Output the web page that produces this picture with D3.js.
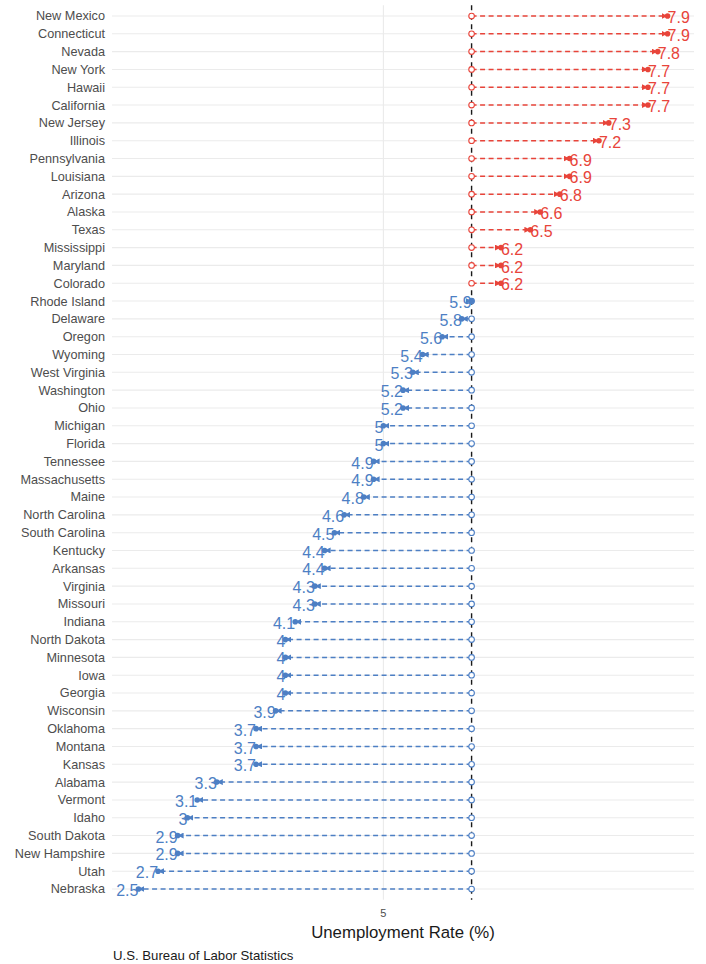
<!DOCTYPE html>
<html>
<head>
<meta charset="utf-8">
<script src="https://cdn.jsdelivr.net/npm/d3@7"></script>
<style>
  body { margin: 0; background: #fff; }
  svg { font-family: "Liberation Sans", Arial, sans-serif; }
</style>
</head>
<body>
<div id="chart"></div>
<script>
const width = 706;
const height = 964;

// data, sorted as shown (top to bottom)
const states = [
  "New Mexico", "Connecticut", "Nevada", "New York", "Hawaii", "California",
  "New Jersey", "Illinois", "Pennsylvania", "Louisiana", "Arizona", "Alaska",
  "Texas", "Mississippi", "Maryland", "Colorado", "Rhode Island", "Delaware",
  "Oregon", "Wyoming", "West Virginia", "Washington", "Ohio", "Michigan",
  "Florida", "Tennessee", "Massachusetts", "Maine", "North Carolina",
  "South Carolina", "Kentucky", "Arkansas", "Virginia", "Missouri", "Indiana",
  "North Dakota", "Minnesota", "Iowa", "Georgia", "Wisconsin", "Oklahoma",
  "Montana", "Kansas", "Alabama", "Vermont", "Idaho", "South Dakota",
  "New Hampshire", "Utah", "Nebraska"
];
const rates = [
  7.9, 7.9, 7.8, 7.7, 7.7, 7.7,
  7.3, 7.2, 6.9, 6.9, 6.8, 6.6,
  6.5, 6.2, 6.2, 6.2, 5.9, 5.8,
  5.6, 5.4, 5.3, 5.2, 5.2, 5,
  5, 4.9, 4.9, 4.8, 4.6,
  4.5, 4.4, 4.4, 4.3, 4.3, 4.1,
  4, 4, 4, 4, 3.9, 3.7,
  3.7, 3.7, 3.3, 3.1, 3, 2.9,
  2.9, 2.7, 2.5
];
const nationalRate = 5.9;
const xTicks = [5];

const red = "#e8443a";
const blue = "#4d7fc4";

const rows = states.map((s, i) => ({ state: s, rate: rates[i] }));

const panel = { left: 112, right: 694, top: 5.3, bottom: 899.7 };

const svg = d3.select("#chart").append("svg")
  .attr("width", width)
  .attr("height", height);

const x = d3.scaleLinear()
  .domain([2.5 - 0.27, 7.9 + 0.27])
  .range([panel.left, panel.right]);

const y = d3.scalePoint()
  .domain(states)
  .range([panel.top, panel.bottom])
  .padding(0.6);

const colorOf = d => d.rate > nationalRate ? red : blue;

// grid
svg.append("g")
  .selectAll("line")
  .data(states)
  .enter()
  .append("line")
  .attr("x1", panel.left)
  .attr("x2", panel.right)
  .attr("y1", d => y(d))
  .attr("y2", d => y(d))
  .attr("stroke", "#ebebeb")
  .attr("stroke-width", 1.1);

svg.append("g")
  .selectAll("line")
  .data(xTicks)
  .enter()
  .append("line")
  .attr("x1", d => x(d))
  .attr("x2", d => x(d))
  .attr("y1", panel.top)
  .attr("y2", panel.bottom)
  .attr("stroke", "#ebebeb")
  .attr("stroke-width", 1.1);

// state labels
svg.append("g")
  .selectAll("text")
  .data(states)
  .enter()
  .append("text")
  .attr("x", 105)
  .attr("y", d => y(d))
  .attr("dy", "0.35em")
  .attr("text-anchor", "end")
  .attr("font-size", 12.7)
  .attr("fill", "#4d4d4d")
  .text(d => d);

// x tick labels
svg.append("g")
  .selectAll("text")
  .data(xTicks)
  .enter()
  .append("text")
  .attr("x", d => x(d))
  .attr("y", 917)
  .attr("text-anchor", "middle")
  .attr("font-size", 11)
  .attr("fill", "#4d4d4d")
  .text(d => d);

// reference line
svg.append("line")
  .attr("x1", x(nationalRate))
  .attr("x2", x(nationalRate))
  .attr("y1", panel.top)
  .attr("y2", panel.bottom)
  .attr("stroke", "#1a1a1a")
  .attr("stroke-width", 1.4)
  .attr("stroke-dasharray", "5,4.5");

// arrow markers
const defs = svg.append("defs");
[["red", red], ["blue", blue]].forEach(([name, col]) => {
  defs.append("marker")
    .attr("id", "arrow-" + name)
    .attr("viewBox", "0 0 10 10")
    .attr("refX", 10)
    .attr("refY", 5)
    .attr("markerUnits", "userSpaceOnUse")
    .attr("markerWidth", 6)
    .attr("markerHeight", 6)
    .attr("orient", "auto")
    .append("path")
    .attr("d", "M0,0L10,5L0,10Z")
    .attr("fill", col);
});

// dashed segments
svg.append("g")
  .selectAll("line")
  .data(rows)
  .enter()
  .append("line")
  .attr("x1", x(nationalRate))
  .attr("x2", d => x(d.rate))
  .attr("y1", d => y(d.state))
  .attr("y2", d => y(d.state))
  .attr("stroke", colorOf)
  .attr("stroke-width", 1.5)
  .attr("stroke-dasharray", "5,3.5")
  .attr("marker-end", d => d.rate > nationalRate ? "url(#arrow-red)" : "url(#arrow-blue)");

// open circles at the national rate
svg.append("g")
  .selectAll("circle")
  .data(rows)
  .enter()
  .append("circle")
  .attr("cx", x(nationalRate))
  .attr("cy", d => y(d.state))
  .attr("r", 2.8)
  .attr("fill", "#fff")
  .attr("stroke", colorOf)
  .attr("stroke-width", 1.1);

// filled points at state rate
svg.append("g")
  .selectAll("circle")
  .data(rows)
  .enter()
  .append("circle")
  .attr("cx", d => x(d.rate))
  .attr("cy", d => y(d.state))
  .attr("r", 2.8)
  .attr("fill", colorOf);

// value labels
svg.append("g")
  .selectAll("text")
  .data(rows)
  .enter()
  .append("text")
  .attr("x", d => x(d.rate))
  .attr("y", d => y(d.state) + 1.5)
  .attr("dy", "0.35em")
  .attr("text-anchor", d => d.rate > nationalRate ? "start" : "end")
  .attr("font-size", 16)
  .attr("fill", colorOf)
  .text(d => d.rate);

// axis title
svg.append("text")
  .attr("x", (panel.left + panel.right) / 2)
  .attr("y", 938)
  .attr("text-anchor", "middle")
  .attr("font-size", 16.8)
  .attr("fill", "#1a1a1a")
  .text("Unemployment Rate (%)");

// caption
svg.append("text")
  .attr("x", 113)
  .attr("y", 960)
  .attr("font-size", 13.2)
  .attr("fill", "#1a1a1a")
  .text("U.S. Bureau of Labor Statistics");
</script>
</body>
</html>
